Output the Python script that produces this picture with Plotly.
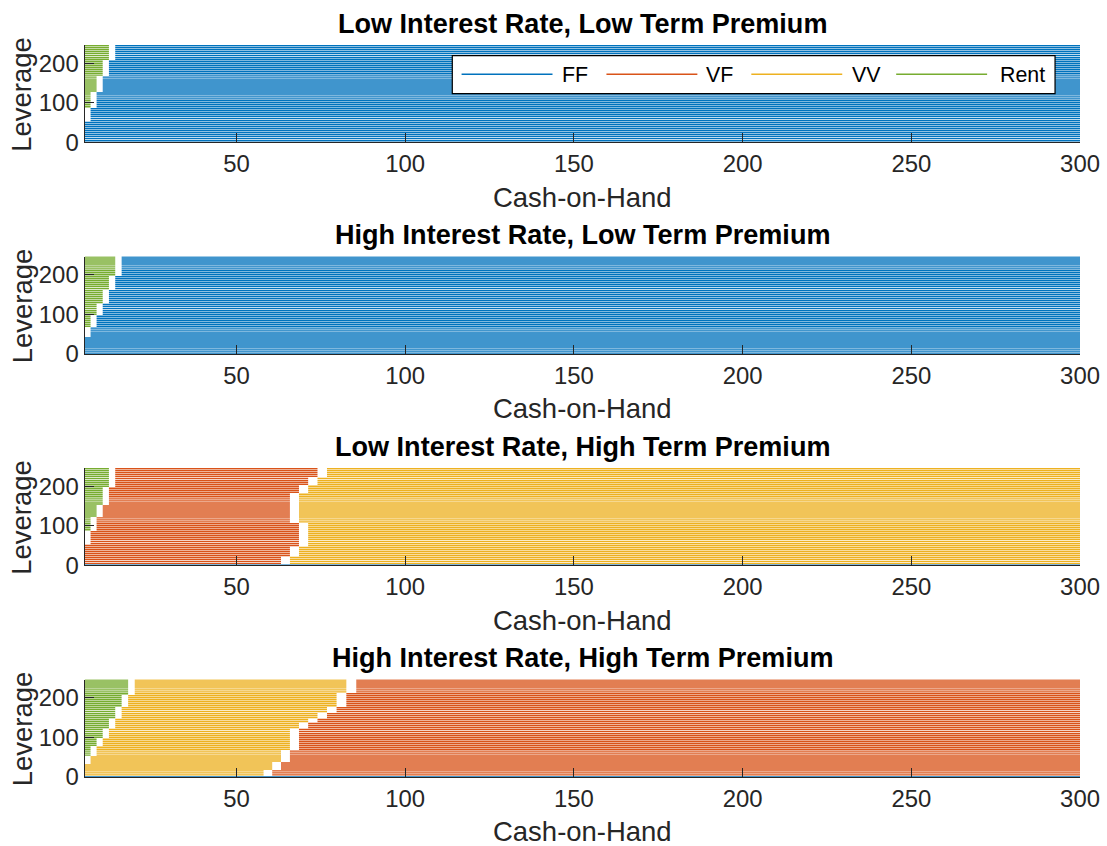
import numpy as np
import plotly.graph_objects as go

# Layout is designed on a 1107 x 846 pixel canvas; SCALE sets the rendered size.
W, H = 1107, 846
SCALE = 1.0175
FONT = "Liberation Sans, Arial, Helvetica, sans-serif"
AXIS_COLOR = "#262626"

CHOICES = ["FF", "VF", "VV", "Rent"]
COLORS = {"FF": "#0072BD", "VF": "#D95319", "VV": "#EDB120", "Rent": "#77AC30"}

TITLES = [
    "Low Interest Rate, Low Term Premium",
    "High Interest Rate, Low Term Premium",
    "Low Interest Rate, High Term Premium",
    "High Interest Rate, High Term Premium",
]

# State grids: cash-on-hand nodes (finer at low cash) and leverage nodes
cash = np.geomspace(116.0, 411.0, 85) - 111.0   # 5 ... 300
leverage = np.arange(0, 250, 5)                 # 0 ... 245

X_TICKS = [50, 100, 150, 200, 250, 300]
Y_TICKS = [0, 100, 200]

# Policy regions.  For each scenario: order of choices as cash-on-hand rises,
# and for each switch the leverage bands (lowest node of each band) with the
# cash-on-hand level at which the household switches.  Rows below the last
# band never take the earlier choice.  Zero leverage is always FF.
ZERO_LEV_CHOICE = "FF"

lilt_order = ["Rent", "FF"]
lilt_rent_ff_lev = [210, 170, 130, 90, 55]
lilt_rent_ff_cash = [13.0, 11.1, 9.2, 7.5, 5.8]

hilt_order = ["Rent", "FF"]
hilt_rent_ff_lev = [200, 165, 130, 100, 70, 45]
hilt_rent_ff_cash = [14.9, 13.0, 11.1, 9.2, 7.5, 5.8]

liht_order = ["Rent", "VF", "VV"]
liht_rent_vf_lev = [200, 155, 125, 90, 55]
liht_rent_vf_cash = [13.0, 11.1, 9.2, 7.5, 5.9]
liht_vf_vv_lev = [225, 205, 185, 110, 50, 25, 5]
liht_vf_vv_cash = [75.8, 73.1, 70.4, 67.7, 70.4, 67.7, 65.0]

hiht_order = ["Rent", "VV", "VF"]
hiht_rent_vv_lev = [210, 180, 150, 125, 100, 80, 55, 35]
hiht_rent_vv_cash = [18.8, 16.8, 14.9, 13.0, 11.1, 9.3, 7.6, 6.0]
hiht_vv_vf_lev = [215, 180, 165, 150, 140, 125, 70, 40, 20, 5]
hiht_vv_vf_cash = [84.3, 81.5, 78.7, 75.9, 73.1, 70.3, 67.6, 64.9, 62.2, 59.6]

SCENARIOS = [
    (lilt_order, [(lilt_rent_ff_lev, lilt_rent_ff_cash)]),
    (hilt_order, [(hilt_rent_ff_lev, hilt_rent_ff_cash)]),
    (liht_order, [(liht_rent_vf_lev, liht_rent_vf_cash), (liht_vf_vv_lev, liht_vf_vv_cash)]),
    (hiht_order, [(hiht_rent_vv_lev, hiht_rent_vv_cash), (hiht_vv_vf_lev, hiht_vv_vf_cash)]),
]


def switch_point(lev, lows, vals):
    for lo, v in zip(lows, vals):
        if lev >= lo:
            return v
    return -np.inf


def policy_rows(order, switches):
    rows = []
    for lev in leverage:
        if lev == 0:
            rows.append([ZERO_LEV_CHOICE] * len(cash))
            continue
        cuts = [switch_point(lev, lo, va) for lo, va in switches]
        rows.append([order[int(sum(c >= s for s in cuts))] for c in cash])
    return rows


# Panel layout (design pixels): plot-area bottoms, height, horizontal extent
BOTTOMS = [142, 353, 564, 775]
PLOT_H = 97
X0_PX, X1_PX = 84.7, 1081.0


def py(px):
    return 1 - px / H


def pxx(px):
    return px / W


def sz(v):
    return v * SCALE


fig = go.Figure()
annotations = []
shapes = []

for k, (order, switches) in enumerate(SCENARIOS):
    rows = policy_rows(order, switches)
    sfx = "" if k == 0 else str(k + 1)
    for choice in CHOICES:
        xs, ys = [], []
        for lev, row in zip(leverage, rows):
            i = 0
            n = len(row)
            while i < n:
                j = i
                while j + 1 < n and row[j + 1] == row[i]:
                    j += 1
                if row[i] == choice and j > i:
                    xs.extend(cash[i:j + 1].tolist())
                    ys.extend([lev] * (j - i + 1))
                    xs.append(None)
                    ys.append(None)
                i = j + 1
        fig.add_trace(go.Scatter(
            x=xs, y=ys, mode="lines", name=choice,
            line=dict(color=COLORS[choice], width=sz(1.4)),
            xaxis="x" + sfx, yaxis="y" + sfx,
            showlegend=False, hoverinfo="skip",
        ))

    bottom = BOTTOMS[k]
    top = bottom - PLOT_H
    axis_common = dict(
        showline=True, linecolor=AXIS_COLOR, linewidth=sz(1.2),
        ticks="inside", ticklen=sz(9), tickwidth=sz(1), tickcolor=AXIS_COLOR,
        showgrid=False, zeroline=False, mirror=False,
        tickfont=dict(family=FONT, size=sz(23.5), color=AXIS_COLOR),
        layer="above traces",
    )
    fig.layout["xaxis" + sfx] = dict(
        axis_common, domain=[pxx(X0_PX), pxx(X1_PX)], range=[5, 300],
        tickvals=X_TICKS, anchor="y" + sfx,
    )
    fig.layout["yaxis" + sfx] = dict(
        axis_common, domain=[py(bottom), py(top)], range=[0, 246],
        tickvals=Y_TICKS, anchor="x" + sfx,
    )

    xmid = pxx((X0_PX + X1_PX) / 2)
    annotations.append(dict(
        text="<b>" + TITLES[k] + "</b>", x=xmid, y=py(top - 21.5),
        xref="paper", yref="paper", xanchor="center", yanchor="middle",
        showarrow=False, font=dict(family=FONT, size=sz(26.6), color="#000000"),
    ))
    annotations.append(dict(
        text="Cash-on-Hand", x=xmid, y=py(bottom + 55),
        xref="paper", yref="paper", xanchor="center", yanchor="middle",
        showarrow=False, font=dict(family=FONT, size=sz(27), color=AXIS_COLOR),
    ))
    annotations.append(dict(
        text="Leverage", x=pxx(22), y=py(bottom - PLOT_H / 2),
        xref="paper", yref="paper", xanchor="center", yanchor="middle",
        textangle=-90, showarrow=False,
        font=dict(family=FONT, size=sz(27), color=AXIS_COLOR),
    ))

# Legend box in the first panel
LEG_X0, LEG_X1, LEG_Y0, LEG_Y1 = 452.7, 1056.0, 55.5, 93.5
shapes.append(dict(
    type="rect", xref="paper", yref="paper",
    x0=pxx(LEG_X0), x1=pxx(LEG_X1), y0=py(LEG_Y1), y1=py(LEG_Y0),
    line=dict(color="#000000", width=sz(1.2)), fillcolor="#FFFFFF", layer="above",
))
leg_line_x = [462, 607, 752, 897]
leg_text_x = [560.5, 705, 851, 999]
leg_y = 74
for choice, lx, tx in zip(CHOICES, leg_line_x, leg_text_x):
    shapes.append(dict(
        type="line", xref="paper", yref="paper",
        x0=pxx(lx), x1=pxx(lx + 91), y0=py(leg_y), y1=py(leg_y),
        line=dict(color=COLORS[choice], width=sz(1.5)), layer="above",
    ))
    annotations.append(dict(
        text=choice, x=pxx(tx), y=py(leg_y + 1), xref="paper", yref="paper",
        xanchor="left", yanchor="middle", showarrow=False,
        font=dict(family=FONT, size=sz(21), color="#000000"),
    ))

fig.update_layout(
    width=round(W * SCALE), height=round(H * SCALE), autosize=False,
    margin=dict(l=0, r=0, t=0, b=0),
    paper_bgcolor="#FFFFFF", plot_bgcolor="#FFFFFF",
    annotations=annotations, shapes=shapes,
    font=dict(family=FONT),
)

fig.write_html("out.html")
